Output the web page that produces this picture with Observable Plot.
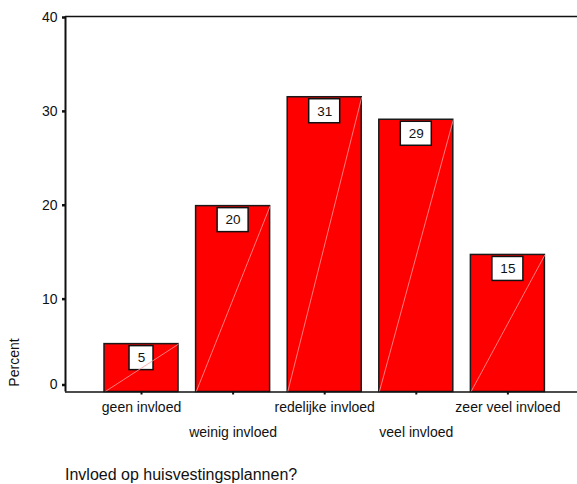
<!DOCTYPE html>
<html>
<head>
<meta charset="utf-8">
<script src="https://cdn.jsdelivr.net/npm/d3@7"></script>
<script src="https://cdn.jsdelivr.net/npm/@observablehq/plot@0.6"></script>
<style>
  body { margin: 0; background: #fff; font-family: "Liberation Sans", Arial, sans-serif; }
  #wrap { position: relative; width: 577px; height: 484px; overflow: hidden; }
  #chart svg { display: block; }
  #title { position: absolute; left: 65px; top: 467px; font-size: 16px; line-height: 16px; color: #111; white-space: nowrap; }
</style>
</head>
<body>
<div id="wrap">
  <div id="chart"></div>
  <div id="title">Invloed op huisvestingsplannen?</div>
</div>
<script>
const categories = ["geen invloed", "weinig invloed", "redelijke invloed", "veel invloed", "zeer veel invloed"];
const percents = [5.1, 19.8, 31.4, 29.0, 14.6];
const valueLabels = ["5", "20", "31", "29", "15"];
const yTicks = [0, 10, 20, 30, 40];
const yLabel = "Percent";

const data = categories.map((c, i) => ({i, category: c, value: percents[i], label: valueLabels[i]}));
const xDomain = [-0.83, 4.76];
const half = 0.404;

const boxedText = (index, scales, values, dimensions, context, next) => {
  const g = next(index, scales, values, dimensions, context);
  const wrap = d3.create("svg:g");
  for (const i of index) {
    const w = data[i].label.length > 1 ? 31 : 24;
    wrap.append("rect")
      .attr("x", values.x[i] - w / 2)
      .attr("y", values.y[i] + 2)
      .attr("width", w)
      .attr("height", 24)
      .attr("fill", "white")
      .attr("stroke", "#111")
      .attr("stroke-width", 1.5);
  }
  wrap.node().appendChild(g);
  return wrap.node();
};

const chart = Plot.plot({
  width: 577,
  height: 440,
  marginLeft: 65,
  marginRight: 0,
  marginTop: 16,
  marginBottom: 48.5,
  style: {fontFamily: "'Liberation Sans', Arial, sans-serif", color: "#111", background: "white"},
  x: {domain: xDomain},
  y: {domain: [0, 40]},
  marks: [
    Plot.rectY(data, {x1: d => d.i - half, x2: d => d.i + half, y1: 0, y2: "value", fill: "#ff0000", stroke: "#1a1a1a", strokeWidth: 1.5}),
    Plot.text(data, {x: "i", y: "value", text: "label", dy: 14, fontSize: 13.5, fill: "#111", render: boxedText}),
    Plot.link(data, {x1: d => d.i - half, y1: 0, x2: d => d.i + half, y2: "value", stroke: "#ff9a9a", strokeWidth: 0.8}),
    Plot.ruleY([yTicks[0], yTicks[yTicks.length - 1]], {stroke: "#111", strokeWidth: 1.6}),
    Plot.ruleX([xDomain[0]], {y1: yTicks[0], y2: yTicks[yTicks.length - 1], stroke: "#111", strokeWidth: 2}),
    Plot.axisY(yTicks.filter(t => t > 0), {tickSize: 3, tickPadding: 5, fontSize: 14, strokeWidth: 2.5, label: null, dy: 1}),
    Plot.axisY([0], {tickSize: 3, tickPadding: 5, fontSize: 14, strokeWidth: 2.5, label: null, dy: -7}),
    Plot.axisX(data.filter(d => d.i % 2 === 0).map(d => d.i), {tickFormat: i => categories[i], tickSize: 3, tickPadding: 7, fontSize: 14, strokeWidth: 2, label: null}),
    Plot.axisX(data.filter(d => d.i % 2 === 1).map(d => d.i), {tickFormat: i => categories[i], tickSize: 3, tickPadding: 32, fontSize: 14, strokeWidth: 2, label: null}),
    Plot.text([yLabel], {frameAnchor: "bottom-left", rotate: -90, dx: -51, dy: -29.5, fontSize: 14, fill: "#111", textAnchor: "middle", lineAnchor: "middle"})
  ]
});
document.getElementById("chart").appendChild(chart);
</script>
</body>
</html>
